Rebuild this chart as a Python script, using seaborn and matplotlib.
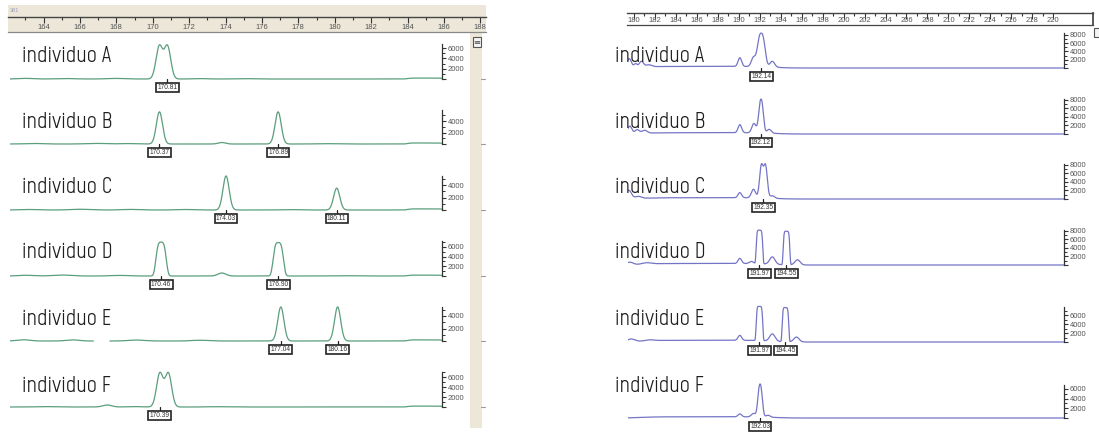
import numpy as np
import pandas as pd
import matplotlib
matplotlib.use("Agg")
import matplotlib.pyplot as plt
from matplotlib.patches import Rectangle
from matplotlib.lines import Line2D
from matplotlib.ticker import FixedLocator, FuncFormatter
import seaborn as sns

W, H, DPI = 1099, 443, 100

# ------------------------------------------------------------------ data
individuals = ["A", "B", "C", "D", "E", "F"]
row_names = [f"individuo {k}" for k in individuals]

# Locus 1 (green channel): allele calls in bp
left_calls = [[170.81], [170.37, 176.89], [174.03, 180.11],
              [170.46, 176.90], [177.04, 180.16], [170.39]]
# peaks per individual: (size bp, height RFU, width bp, shape exponent)
left_peaks = [
    [(170.36, 6330, .18, 2), (170.81, 6330, .18, 2), (163.0, 120, .4, 2), (165.2, 90, .5, 2),
     (168.0, 110, .5, 2), (172.6, 80, .4, 2), (175.0, 70, .5, 2), (185.0, 180, .95, 8)],
    [(170.37, 5600, .17, 2), (176.89, 5600, .17, 2), (173.8, 260, .2, 2), (163.5, 90, .5, 2),
     (166.8, 110, .5, 2), (168.5, 80, .4, 2), (179.5, 60, .5, 2), (185.0, 180, .95, 8)],
    [(174.03, 5450, .17, 2), (180.11, 3500, .17, 2), (163.2, 80, .5, 2), (166.0, 120, .5, 2),
     (168.8, 90, .5, 2), (171.8, 80, .5, 2), (177.5, 70, .5, 2), (185.0, 180, .95, 8)],
    [(170.46, 7000, .26, 3.5), (176.90, 6900, .26, 3.5), (173.8, 620, .22, 2), (163.0, 150, .4, 2),
     (165.0, 200, .5, 2), (168.2, 120, .5, 2), (180.5, 60, .6, 2), (185.0, 180, .95, 8)],
    [(177.04, 5450, .17, 2), (180.16, 5450, .17, 2), (162.9, 200, .35, 2), (165.6, 180, .35, 2),
     (169.1, 150, .45, 2), (172.6, 120, .45, 2), (185.0, 180, .95, 8)],
    [(170.39, 6700, .18, 2), (170.86, 6700, .18, 2), (167.5, 400, .25, 2), (164.0, 80, .5, 2),
     (169.0, 80, .4, 2), (173.5, 60, .5, 2), (185.0, 180, .95, 8)],
]
left_gaps = [[], [], [], [], [(166.75, 167.65)], []]
left_full_scale = [7770, 6960, 6400, 8250, 6400, 8000]
left_scale_top = [6800, 5900, 5450, 7200, 5450, 7000]

# Locus 2 (blue channel)
right_calls = [[192.14], [192.12], [192.35], [191.97, 194.55], [191.97, 194.45], [192.03]]
right_peaks = [
    [(192.14, 8100, .34, 2.6), (191.4, 2200, .2, 2), (193.2, 1400, .22, 2), (190.1, 2100, .17, 2),
     (187.0, 380, 6, 6), (179.55, 2200, .2, 2), (180.15, 900, .15, 2), (180.7, 1400, .2, 2),
     (181.4, 500, .3, 2)],
    [(192.12, 7950, .21, 2.3), (191.45, 2200, .2, 2), (192.9, 900, .2, 2), (190.1, 1900, .17, 2),
     (187.0, 300, 6, 6), (179.6, 1800, .2, 2), (180.3, 900, .2, 2), (181.0, 700, .25, 2)],
    [(192.15, 7500, .17, 2), (192.55, 7500, .17, 2), (191.4, 2000, .2, 2), (193.2, 600, .2, 2),
     (190.1, 1200, .17, 2), (187.0, 300, 6, 6), (179.5, 2000, .25, 2), (180.4, 500, .3, 2)],
    [(191.97, 7800, .30, 6), (194.55, 7800, .30, 6), (193.2, 1700, .25, 2), (195.6, 1200, .25, 2),
     (190.1, 1200, .17, 2), (191.2, 500, .2, 2), (187.0, 350, 6, 6), (179.6, 600, .3, 2),
     (181.2, 300, .4, 2)],
    [(191.97, 7600, .30, 6), (194.45, 7600, .30, 6), (193.2, 1600, .25, 2), (195.5, 1100, .25, 2),
     (190.1, 1100, .17, 2), (187.0, 380, 6, 6), (179.7, 600, .35, 2), (181.5, 200, .4, 2)],
    [(192.03, 6800, .2, 2.3), (190.1, 600, .17, 2), (191.4, 700, .2, 2), (192.8, 400, .2, 2),
     (187.0, 250, 6, 6)],
]
right_gaps = [[], [], [], [], [], []]
right_full_scale = [9640, 9400, 9400, 9300, 8900, 8250]
right_scale_top = [8400, 8200, 8200, 8100, 7800, 6800]

left_ruler_labels = list(range(162, 189, 2))
right_ruler_labels = list(range(180, 221, 2))

# ------------------------------------------------------------------ style
sns.set_theme(style="white")
plt.rcParams["font.family"] = ["DejaVu Sans"]
LABEL_FONT = ["Mohave", "DejaVu Sans"]
TICK_FONT = ["Liberation Sans", "DejaVu Sans"]
GREEN = "#5a9e7c"
BLUE = "#7474c6"
BEIGE = "#ece7d8"

fig = plt.figure(figsize=(W / DPI, H / DPI), dpi=DPI)
fig.patch.set_facecolor("white")


def px_axes(x0, y0, x1, y1):
    return fig.add_axes([x0 / W, 1 - y1 / H, (x1 - x0) / W, (y1 - y0) / H])


def fig_rect(x0, y0, x1, y1, **kw):
    fig.add_artist(Rectangle((x0 / W, 1 - y1 / H), (x1 - x0) / W, (y1 - y0) / H,
                             transform=fig.transFigure, **kw))


def fig_line(xs, ys, **kw):
    fig.add_artist(Line2D([x / W for x in xs], [1 - y / H for y in ys],
                          transform=fig.transFigure, **kw))


def signal(grid, peaks):
    y = np.zeros_like(grid)
    for c, h, w, p in peaks:
        y += h * np.exp(-0.5 * np.abs((grid - c) / w) ** p)
    return y


def draw_ruler(px, py, xlim, labels, bg, pad, box=False):
    ax = px_axes(px[0], py[0], px[1], py[1])
    ax.set_facecolor(bg)
    ax.set_xlim(xlim)
    ax.set_ylim(0, 1)
    ax.set_yticks([])
    ax.xaxis.set_major_locator(FixedLocator(labels))
    ax.xaxis.set_minor_locator(FixedLocator([v + 1 for v in labels[:-1]]))
    ax.tick_params(axis="x", which="both", direction="in", top=True, bottom=False,
                   labeltop=False, labelbottom=True, color="#333", labelcolor="#555",
                   labelsize=5.5, pad=pad)
    ax.tick_params(axis="x", which="major", length=4, width=0.8)
    ax.tick_params(axis="x", which="minor", length=2, width=0.8)
    for lab in ax.get_xticklabels():
        lab.set_family(TICK_FONT)
    for side in ("left", "right"):
        ax.spines[side].set_visible(box and side == "right")
    ax.spines["top"].set_color("#444")
    ax.spines["top"].set_linewidth(1.0)
    ax.spines["bottom"].set_color("#888" if not box else "#444")
    ax.spines["bottom"].set_linewidth(0.9)
    ax.spines["right"].set_color("#444")
    for t in ax.xaxis.get_major_ticks():
        t.label1.set_clip_on(True)
        t.label1.set_clip_box(ax.bbox)
    return ax


def draw_row(px, yb, xlim, peaks, calls, full, top, gaps, color):
    ax = px_axes(px[0], yb - 40, px[1], yb + 2)
    ax.set_facecolor("none")
    grid = np.linspace(xlim[0], xlim[1], 2400)
    sig = signal(grid, peaks)
    seg = np.zeros(len(grid), dtype=int)
    for g0, g1 in gaps:
        sig[(grid > g0) & (grid < g1)] = np.nan
        seg[grid >= g1] += 1
    df = pd.DataFrame({"size": grid, "rfu": sig, "seg": seg}).dropna()
    sns.lineplot(data=df, x="size", y="rfu", units="seg", estimator=None, sort=False,
                 color=color, linewidth=0.9, ax=ax, legend=False)
    ax.set_xlim(xlim)
    ax.set_ylim(-full * 2 / 40, full)
    ax.set_xlabel("")
    ax.set_ylabel("")
    ax.set_xticks([])
    for side in ("top", "left", "bottom"):
        ax.spines[side].set_visible(False)
    ax.spines["right"].set_visible(True)
    ax.spines["right"].set_bounds(0, top)
    ax.spines["right"].set_color("#333")
    ax.spines["right"].set_linewidth(0.9)
    ax.yaxis.tick_right()
    ax.yaxis.set_major_locator(FixedLocator(list(range(0, top + 1, 2000))))
    ax.yaxis.set_minor_locator(FixedLocator(list(range(1000, top + 1, 2000))))
    ax.yaxis.set_major_formatter(FuncFormatter(lambda v, p: "" if v == 0 else f"{int(v)}"))
    ax.tick_params(axis="y", which="both", direction="out", color="#333",
                   labelcolor="#555", labelsize=5.5, pad=1)
    ax.tick_params(axis="y", which="major", length=3, width=0.8)
    ax.tick_params(axis="y", which="minor", length=1.8, width=0.7)
    for lab in ax.get_yticklabels():
        lab.set_family(TICK_FONT)
    unit = full / 40
    for v in calls:
        ax.add_line(Line2D([v, v], [0, -3.5 * unit], color="#222", lw=0.9, clip_on=False))
        ax.annotate(f"{v:.2f}", xy=(v, 0), xytext=(0, -8.5), textcoords="offset pixels",
                    ha="center", va="center", fontsize=4.8, color="#333",
                    family=TICK_FONT, annotation_clip=False,
                    bbox=dict(boxstyle="square,pad=0.2", fc="white", ec="#222", lw=1.2))
    return ax


def left_size(p):
    return 170 + (p - 152.7) / 18.2


def right_size(p):
    return 180 + (p - 634) / 10.48


label_baselines = [61.5, 127.5, 193, 258.5, 325, 391.5]

# ------------------------------------------------------------------ left panel
fig_rect(8, 5, 486, 32, facecolor=BEIGE, edgecolor="none", zorder=-5)
fig_rect(470, 33, 482, 428, facecolor=BEIGE, edgecolor="none", zorder=-5)
fig_rect(473, 37, 481, 47, facecolor="#f4f4f4", edgecolor="#555", lw=0.8, zorder=3)
fig.text(477 / W, 1 - 42 / H, "≡", fontsize=6, ha="center", va="center", color="#444",
         zorder=4)
fig.text(10 / W, 1 - 11 / H, "381", fontsize=4, ha="left", va="center", color="#a0a0b8",
         family=TICK_FONT)
draw_ruler((8, 486), (17, 32), (left_size(8), left_size(486)), left_ruler_labels,
           "none", pad=-6.0)

left_baselines = [79, 144, 210, 276, 341, 407]
for i in range(6):
    draw_row((10, 442), left_baselines[i], (left_size(10), left_size(442)), left_peaks[i],
             left_calls[i], left_full_scale[i], left_scale_top[i], left_gaps[i], GREEN)
    fig_line([481, 485], [left_baselines[i], left_baselines[i]], color="#999", lw=0.8)
    fig.text(22 / W, 1 - label_baselines[i] / H, row_names[i], fontsize=16,
             family=LABEL_FONT, ha="left", va="baseline", color="#1e1e1e")

# ------------------------------------------------------------------ right panel
draw_ruler((627, 1093), (13, 25), (right_size(627), right_size(1093)), right_ruler_labels,
           "white", pad=-5.5, box=True)
fig_rect(1094, 28, 1103, 37, facecolor="#f4f4f4", edgecolor="#555", lw=0.8)

right_baselines = [68, 134, 199, 265, 342, 418]
for i in range(6):
    draw_row((628, 1064), right_baselines[i], (right_size(628), right_size(1064)),
             right_peaks[i], right_calls[i], right_full_scale[i], right_scale_top[i],
             right_gaps[i], BLUE)
    fig.text(615 / W, 1 - label_baselines[i] / H, row_names[i], fontsize=16,
             family=LABEL_FONT, ha="left", va="baseline", color="#1e1e1e")

fig.savefig("out.png", dpi=DPI, facecolor="white")
